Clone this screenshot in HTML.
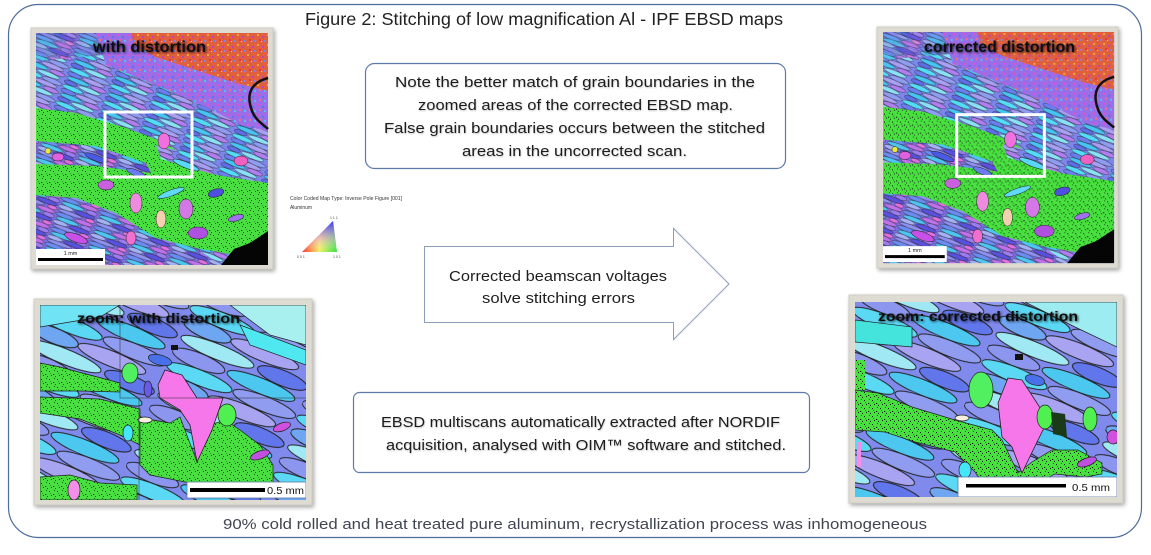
<!DOCTYPE html>
<html><head><meta charset="utf-8"><style>
html,body{margin:0;padding:0;background:#fff;width:1151px;height:555px;overflow:hidden}
svg{display:block}
text{font-family:"Liberation Sans",Arial,sans-serif}
</style></head><body>
<svg xmlns="http://www.w3.org/2000/svg" xmlns:xlink="http://www.w3.org/1999/xlink" width="1151" height="555" viewBox="0 0 1151 555">
<defs>
 <pattern id="pStreak" width="44" height="18" patternUnits="userSpaceOnUse" patternTransform="rotate(22)">
  <rect width="44" height="18" fill="#7c86ec"/>
  <g stroke="#222" stroke-width=".4">
   <ellipse cx="11" cy="2.4" rx="11" ry="2.4" fill="#52dcf6"/>
   <ellipse cx="33" cy="2.4" rx="10.5" ry="2.4" fill="#8e9cf2"/>
   <ellipse cx="8" cy="6.8" rx="8" ry="2.3" fill="#6a7ef0"/>
   <ellipse cx="28" cy="6.8" rx="12" ry="2.3" fill="#a89ff2"/>
   <ellipse cx="13" cy="11.2" rx="12" ry="2.3" fill="#46c4f2"/>
   <ellipse cx="35" cy="11.2" rx="8.5" ry="2.3" fill="#b07ef0"/>
   <ellipse cx="7" cy="15.6" rx="7" ry="2.2" fill="#5f6ee8"/>
   <ellipse cx="27" cy="15.6" rx="12" ry="2.2" fill="#8ae0f4"/>
  </g>
 </pattern>
 <pattern id="pStreak2" width="40" height="16" patternUnits="userSpaceOnUse" patternTransform="rotate(20)">
  <rect width="40" height="16" fill="#7a6ee0"/>
  <g stroke="#222" stroke-width=".4">
   <ellipse cx="10" cy="2.2" rx="10" ry="2.2" fill="#6a8cf2"/>
   <ellipse cx="30" cy="2.2" rx="9.5" ry="2.2" fill="#c070e8"/>
   <ellipse cx="14" cy="6.3" rx="12" ry="2.2" fill="#4ec4f0"/>
   <ellipse cx="34" cy="6.3" rx="6" ry="2.2" fill="#9a7cf0"/>
   <ellipse cx="8" cy="10.4" rx="8" ry="2.2" fill="#a4b0f4"/>
   <ellipse cx="28" cy="10.4" rx="11" ry="2.2" fill="#5a50e0"/>
   <ellipse cx="14" cy="14.2" rx="13" ry="1.9" fill="#8f8ff0"/>
   <ellipse cx="35" cy="14.2" rx="5" ry="1.9" fill="#e070e0"/>
  </g>
 </pattern>
 <pattern id="pStreakZ" width="100" height="44" patternUnits="userSpaceOnUse" patternTransform="rotate(22) scale(1.4)">
  <rect width="100" height="44" fill="#7f8aec"/>
  <g stroke="#222" stroke-width=".7">
   <ellipse cx="25" cy="5.5" rx="25" ry="5.5" fill="#5ad8f4"/>
   <ellipse cx="75" cy="5.5" rx="24" ry="5.5" fill="#8f9cf0"/>
   <ellipse cx="18" cy="16.5" rx="18" ry="5.5" fill="#6fa6f2"/>
   <ellipse cx="62" cy="16.5" rx="26" ry="5.5" fill="#a8a4f2"/>
   <ellipse cx="30" cy="27.5" rx="28" ry="5.5" fill="#9fe8f4"/>
   <ellipse cx="80" cy="27.5" rx="19" ry="5.5" fill="#6076ea"/>
   <ellipse cx="20" cy="38.5" rx="20" ry="5.5" fill="#8c96ee"/>
   <ellipse cx="68" cy="38.5" rx="26" ry="5.5" fill="#4cc8f0"/>
  </g>
 </pattern>
 <pattern id="pGreen" width="8" height="8" patternUnits="userSpaceOnUse">
  <rect width="8" height="8" fill="#48e03e"/>
  <rect x="1" y="2" width="1" height="1" fill="#111"/>
  <rect x="5" y="5" width="1.2" height="1" fill="#111"/>
  <rect x="6" y="1" width="1" height="1" fill="#1f5a1f"/>
  <rect x="3" y="6" width="1" height="1" fill="#222"/>
  <rect x="2" y="4" width="1" height="1" fill="#2a8a2a"/>
  <rect x="7" y="7" width="1" height="1" fill="#222"/>
 </pattern>
 <pattern id="pRed" width="10" height="10" patternUnits="userSpaceOnUse">
  <rect width="10" height="10" fill="#e0603e"/>
  <rect x="1" y="1" width="2" height="2" fill="#f0a040"/>
  <rect x="6" y="3" width="2" height="2" fill="#c040c0"/>
  <rect x="3" y="6" width="2" height="2" fill="#e83838"/>
  <rect x="8" y="7" width="2" height="2" fill="#8080f0"/>
  <rect x="5" y="8" width="1" height="1" fill="#f0e040"/>
 </pattern>
 <pattern id="pPurp" width="10" height="10" patternUnits="userSpaceOnUse">
  <rect width="10" height="10" fill="#9a6ee6"/>
  <rect x="1" y="1" width="2" height="2" fill="#e050d0"/>
  <rect x="6" y="3" width="2" height="2" fill="#6070f0"/>
  <rect x="3" y="6" width="2" height="2" fill="#f07080"/>
  <rect x="8" y="7" width="2" height="2" fill="#50c0f0"/>
 </pattern>
 <linearGradient id="ipfA" x1="0" y1="0" x2="1" y2="0">
  <stop offset="0" stop-color="#ff3030"/><stop offset="0.5" stop-color="#f0f060"/><stop offset="1" stop-color="#30e040"/>
 </linearGradient>
 <linearGradient id="ipfB" x1="0" y1="1" x2="0" y2="0">
  <stop offset="0" stop-color="#ffffff" stop-opacity="0"/><stop offset="0.4" stop-color="#f0a0f0" stop-opacity=".5"/><stop offset="1" stop-color="#3030ff" stop-opacity="1"/>
 </linearGradient>
 <filter id="lbl" x="-10%" y="-40%" width="120%" height="180%">
  <feGaussianBlur in="SourceAlpha" stdDeviation="1.3"/>
  <feOffset dx="0.8" dy="0.8" result="o"/>
  <feComponentTransfer><feFuncA type="linear" slope="0.8"/></feComponentTransfer>
  <feMerge><feMergeNode/><feMergeNode in="SourceGraphic"/></feMerge>
 </filter>
 <filter id="tsh" x="-5%" y="-30%" width="110%" height="160%">
  <feGaussianBlur in="SourceAlpha" stdDeviation="0.9"/>
  <feOffset dx="0.6" dy="0.8"/>
  <feComponentTransfer><feFuncA type="linear" slope="0.25"/></feComponentTransfer>
  <feMerge><feMergeNode/><feMergeNode in="SourceGraphic"/></feMerge>
 </filter>
 <filter id="fsh" x="-5%" y="-5%" width="112%" height="112%">
  <feGaussianBlur in="SourceAlpha" stdDeviation="2"/>
  <feOffset dx="1.5" dy="2"/>
  <feComponentTransfer><feFuncA type="linear" slope="0.35"/></feComponentTransfer>
  <feMerge><feMergeNode/><feMergeNode in="SourceGraphic"/></feMerge>
 </filter>

 <g id="bigmap">
  <rect width="232" height="232" fill="url(#pStreak)"/>
  <polygon points="0,0 100,0 90,20 0,28" fill="url(#pStreak2)" opacity=".8"/>
  <polygon points="60,0 232,0 232,98 205,92 170,74 120,52 70,32" fill="url(#pPurp)"/>
  <polygon points="95,0 232,0 232,58 200,50 160,37 120,24 98,12" fill="url(#pRed)"/>
  <polygon points="0,75 40,80 90,95 130,110 150,125 232,150 232,205 200,222 160,215 120,205 80,180 40,165 0,162" fill="url(#pGreen)"/>
  <polygon points="0,108 60,113 110,130 115,140 60,133 0,131" fill="url(#pStreak2)"/>
  <polygon points="120,112 180,128 232,138 232,150 180,142 125,126" fill="url(#pStreak)"/>
  <polygon points="0,162 40,165 80,180 120,205 160,215 185,232 0,232" fill="url(#pStreak2)"/>
  <polygon points="185,232 198,216 214,210 232,198 232,232" fill="#050505"/>
  <path d="M232,45 C214,50 210,62 216,78 C220,88 228,92 232,96" fill="none" stroke="#111" stroke-width="2.5"/>
  <g stroke="#222" stroke-width=".5">
   <ellipse cx="100" cy="170" rx="6" ry="10" fill="#f08ae0"/>
   <ellipse cx="125" cy="186" rx="5" ry="9" fill="#f5d0b0"/>
   <ellipse cx="150" cy="176" rx="7" ry="10" fill="#d478e8"/>
   <ellipse cx="162" cy="200" rx="10" ry="6" fill="#b050e0"/>
   <ellipse cx="70" cy="152" rx="8" ry="5" fill="#c860e0"/>
   <ellipse cx="22" cy="124" rx="6" ry="4" fill="#e060e0"/>
   <ellipse cx="12" cy="118" rx="3" ry="3" fill="#e8e840"/>
   <ellipse cx="180" cy="160" rx="8" ry="4" fill="#5050e0" transform="rotate(-15 180 160)"/>
   <ellipse cx="128" cy="108" rx="6" ry="8" fill="#f070e0"/>
   <ellipse cx="135" cy="160" rx="14" ry="3" fill="#60d8f8" transform="rotate(-20 135 160)"/>
   <ellipse cx="205" cy="128" rx="7" ry="5" fill="#f060c0"/>
   <ellipse cx="40" cy="205" rx="12" ry="4" fill="#c850e8" transform="rotate(20 40 205)"/>
   <ellipse cx="95" cy="205" rx="5" ry="7" fill="#f070d0"/>
   <ellipse cx="60" cy="125" rx="12" ry="3" fill="#4a5ae6" transform="rotate(22 60 125)"/>
   <ellipse cx="150" cy="132" rx="14" ry="3" fill="#58d8f6" transform="rotate(22 150 132)"/>
   <ellipse cx="100" cy="140" rx="10" ry="3" fill="#6a7cf0" transform="rotate(22 100 140)"/>
   <ellipse cx="200" cy="185" rx="8" ry="3" fill="#a070f0" transform="rotate(-15 200 185)"/>
  </g>
 </g>
</defs>

<!-- outer frame -->
<rect x="8.5" y="4.5" width="1133" height="533" rx="30" ry="30" fill="#fff" stroke="#4e6d9c" stroke-width="1.2"/>

<!-- title -->
<text x="305" y="25" font-size="17.5" fill="#222" textLength="478" lengthAdjust="spacingAndGlyphs">Figure 2: Stitching of low magnification Al - IPF EBSD maps</text>

<!-- top-left big map -->
<rect x="31" y="28" width="242" height="241" fill="#dedbd3" stroke="#cfccc3" filter="url(#fsh)"/>
<g transform="translate(36,33)">
 <use xlink:href="#bigmap"/>
 <rect x="69" y="79" width="87" height="65" fill="none" stroke="#fff" stroke-width="3"/>
 <rect x="0" y="216" width="69" height="16" fill="#fff"/>
 <rect x="2" y="225" width="65" height="3" fill="#000"/>
 <text x="34.5" y="222" font-size="5.5" fill="#222" text-anchor="middle">1 mm</text>
</g>
<text x="93" y="52" font-size="16" font-weight="bold" fill="#111" textLength="113" lengthAdjust="spacingAndGlyphs" filter="url(#lbl)">with distortion</text>

<!-- top-right big map -->
<rect x="877" y="27" width="241" height="241" fill="#dedbd3" stroke="#cfccc3" filter="url(#fsh)"/>
<g transform="translate(883,32) scale(0.996)">
 <use xlink:href="#bigmap"/>
 <rect x="74" y="83" width="88" height="62" fill="none" stroke="#fff" stroke-width="3"/>
 <rect x="0" y="215" width="64" height="16" fill="#fff"/>
 <rect x="2" y="224" width="60" height="3" fill="#000"/>
 <text x="32" y="221" font-size="5.5" fill="#222" text-anchor="middle">1 mm</text>
</g>
<text x="924" y="52" font-size="16" font-weight="bold" fill="#111" textLength="151" lengthAdjust="spacingAndGlyphs" filter="url(#lbl)">corrected distortion</text>

<!-- IPF legend -->
<text x="290" y="200" font-size="5" fill="#333" textLength="112" lengthAdjust="spacingAndGlyphs">Color Coded Map Type: Inverse Pole Figure [001]</text>
<text x="290" y="209" font-size="5" fill="#333" textLength="22" lengthAdjust="spacingAndGlyphs">Aluminum</text>
<polygon points="302,252 337,252 333,221" fill="url(#ipfA)"/>
<polygon points="302,252 337,252 333,221" fill="url(#ipfB)"/>
<text x="330" y="219" font-size="3.5" fill="#444">1 1 1</text>
<text x="297" y="258" font-size="3.5" fill="#444">0 0 1</text>
<text x="333" y="258" font-size="3.5" fill="#444">1 0 1</text>

<!-- top note box -->
<rect x="365.5" y="63.5" width="420" height="105" rx="9" ry="9" fill="#fff" stroke="#5d7aa8" stroke-width="1.2"/>
<g font-size="15" fill="#1e1e1e" filter="url(#tsh)">
 <text x="395" y="87" textLength="360" lengthAdjust="spacingAndGlyphs">Note the better match of grain boundaries in the</text>
 <text x="418" y="110" textLength="315" lengthAdjust="spacingAndGlyphs">zoomed areas of the corrected EBSD map.</text>
 <text x="384" y="133" textLength="381" lengthAdjust="spacingAndGlyphs">False grain boundaries occurs between the stitched</text>
 <text x="462" y="156" textLength="225" lengthAdjust="spacingAndGlyphs">areas in the uncorrected scan.</text>
</g>

<!-- arrow -->
<polygon points="424.5,246.5 673.5,246.5 673.5,228.5 729,284 673.5,339.5 673.5,322.5 424.5,322.5" fill="#fff" stroke="#8a9dbb" stroke-width="1"/>
<g font-size="15" fill="#1e1e1e">
 <text x="449" y="281" textLength="218" lengthAdjust="spacingAndGlyphs">Corrected beamscan voltages</text>
 <text x="482" y="303" textLength="153" lengthAdjust="spacingAndGlyphs">solve stitching errors</text>
</g>

<!-- bottom box -->
<rect x="353.5" y="392.5" width="456" height="80" rx="6" ry="6" fill="#fff" stroke="#5d7aa8" stroke-width="1.2"/>
<g font-size="15" fill="#1e1e1e" filter="url(#tsh)">
 <text x="381" y="427" textLength="399" lengthAdjust="spacingAndGlyphs">EBSD multiscans automatically extracted after NORDIF</text>
 <text x="386" y="450" textLength="400" lengthAdjust="spacingAndGlyphs">acquisition, analysed with OIM™ software and stitched.</text>
</g>

<!-- bottom-left zoom map -->
<rect x="34" y="299" width="278" height="206" fill="#dedbd3" stroke="#cfccc3" filter="url(#fsh)"/>
<svg x="40" y="305" width="266" height="195" viewBox="0 0 266 195" overflow="hidden">
 <rect width="266" height="195" fill="url(#pStreakZ)"/>
 <polygon points="0,0 80,0 60,12 0,22" fill="#70e4f4" stroke="#222" stroke-width=".7"/>
 <polygon points="190,0 266,0 266,40 230,30" fill="#a8f0f0" stroke="#222" stroke-width=".7"/>
 <polygon points="200,20 266,45 266,60 210,40" fill="#50e8f0" stroke="#222" stroke-width=".7"/>
 <polygon points="0,58 20,62 50,70 80,78 80,87 40,86 0,86" fill="url(#pGreen)" stroke="#222" stroke-width=".7"/>
 <polygon points="0,92 60,94 100,104 100,140 80,130 40,114 0,108" fill="url(#pGreen)" stroke="#222" stroke-width=".7"/>
 <polygon points="0,172 30,170 60,178 97,180 97,195 0,195" fill="url(#pGreen)" stroke="#222" stroke-width=".7"/>
 <polygon points="100,113 130,118 140,112 157,157 170,120 185,115 200,125 220,140 233,160 233,180 200,178 150,178 110,170 100,160" fill="url(#pGreen)" stroke="#222" stroke-width=".7"/>
 <polygon points="125,65 142,70 157,93 183,93 172,125 157,157 150,120 140,105 120,93 118,80" fill="#f577ea" stroke="#222" stroke-width=".8"/>
 <ellipse cx="187" cy="110" rx="9" ry="11" fill="#50f050" stroke="#222" stroke-width=".7"/>
 <ellipse cx="88" cy="128" rx="5" ry="8" fill="#44e6f8" stroke="#222" stroke-width=".7"/>
 <ellipse cx="34" cy="185" rx="6" ry="10" fill="#f58ee8" stroke="#222" stroke-width=".7"/>
 <ellipse cx="242" cy="122" rx="9" ry="4" fill="#d050e0" stroke="#222" stroke-width=".7" transform="rotate(-20 242 122)"/>
 <ellipse cx="220" cy="150" rx="10" ry="4" fill="#c050e0" stroke="#222" stroke-width=".7" transform="rotate(-20 220 150)"/>
 <ellipse cx="105" cy="115" rx="7" ry="3" fill="#f8f0e0" stroke="#222" stroke-width=".7"/>
 <ellipse cx="120" cy="55" rx="12" ry="5" fill="#4870e8" stroke="#222" stroke-width=".7" transform="rotate(15 120 55)"/>
 <ellipse cx="90" cy="68" rx="8" ry="10" fill="#50f060" stroke="#222" stroke-width=".7"/>
 <ellipse cx="108" cy="84" rx="4" ry="8" fill="#6a5ae8" stroke="#222" stroke-width=".7"/>
 <rect x="131" y="40" width="7" height="5" fill="#111"/>
 <path d="M80,0 V93 H266 M99,93 V195" fill="none" stroke="#333" stroke-width=".8" opacity=".7"/>
 <rect x="147" y="177" width="119" height="16" fill="#fff" stroke="#5d7aa8" stroke-width=".8"/>
 <rect x="150" y="183" width="75" height="4" fill="#000"/>
 <text x="227" y="189" font-size="10" fill="#111" textLength="37" lengthAdjust="spacingAndGlyphs">0.5 mm</text>
</svg>
<text x="77" y="323" font-size="14" font-weight="bold" fill="#111" textLength="163" lengthAdjust="spacingAndGlyphs" filter="url(#lbl)">zoom: with distortion</text>

<!-- bottom-right zoom map -->
<rect x="849" y="295" width="274" height="208" fill="#dedbd3" stroke="#cfccc3" filter="url(#fsh)"/>
<svg x="855" y="302" width="262" height="195" viewBox="0 0 262 195" overflow="hidden">
 <rect width="262" height="195" fill="url(#pStreakZ)"/>
 <polygon points="0,18 57,25 57,45 0,40" fill="#44e4dc" stroke="#222" stroke-width=".7"/>
 <polygon points="170,0 262,0 262,45 220,25" fill="#9cecf2" stroke="#222" stroke-width=".7"/>
 <polygon points="0,58 10,58 10,88 0,88" fill="url(#pGreen)"/>
 <polygon points="0,88 23,91 57,105 100,118 137,128 147,138 163,171 177,160 197,148 223,148 247,161 247,172 230,175 200,172 175,185 165,195 135,195 120,170 100,150 60,140 30,130 0,128" fill="url(#pGreen)" stroke="#222" stroke-width=".7"/>
 <polygon points="153,76 167,78 193,118 183,138 167,171 157,145 147,135 143,101" fill="#f577ea" stroke="#222" stroke-width=".8"/>
 <ellipse cx="190" cy="115" rx="8" ry="12" fill="#50f050" stroke="#222" stroke-width=".7"/>
 <polygon points="196,110 210,112 212,135 198,132" fill="#1a3a1a"/>
 <ellipse cx="126" cy="88" rx="12" ry="18" fill="#50f060" stroke="#222" stroke-width=".7"/>
 <ellipse cx="107" cy="116" rx="7" ry="3" fill="#f8f0e0" stroke="#222" stroke-width=".7"/>
 <ellipse cx="110" cy="168" rx="6" ry="8" fill="#44e6f8" stroke="#222" stroke-width=".7"/>
 <ellipse cx="235" cy="117" rx="7" ry="12" fill="#50f050" stroke="#222" stroke-width=".7"/>
 <ellipse cx="258" cy="135" rx="6" ry="7" fill="#d050e0" stroke="#222" stroke-width=".7"/>
 <ellipse cx="232" cy="160" rx="10" ry="4" fill="#c050e0" stroke="#222" stroke-width=".7" transform="rotate(-20 232 160)"/>
 <ellipse cx="180" cy="78" rx="10" ry="5" fill="#4870e8" stroke="#222" stroke-width=".7" transform="rotate(15 180 78)"/>
 <rect x="2" y="140" width="4" height="25" fill="#f58ee8"/>
 <rect x="160" y="52" width="8" height="6" fill="#111"/>
 <rect x="103" y="175" width="159" height="20" fill="#fff" stroke="#5d7aa8" stroke-width=".8"/>
 <rect x="111" y="182" width="100" height="3.5" fill="#000"/>
 <text x="217" y="189" font-size="10.5" fill="#111" textLength="38" lengthAdjust="spacingAndGlyphs">0.5 mm</text>
</svg>
<text x="878" y="321" font-size="14" font-weight="bold" fill="#111" textLength="200" lengthAdjust="spacingAndGlyphs" filter="url(#lbl)">zoom: corrected distortion</text>

<!-- caption -->
<text x="223" y="529" font-size="15" fill="#404552" textLength="704" lengthAdjust="spacingAndGlyphs">90% cold rolled and heat treated pure aluminum, recrystallization process was inhomogeneous</text>
</svg>
</body></html>
